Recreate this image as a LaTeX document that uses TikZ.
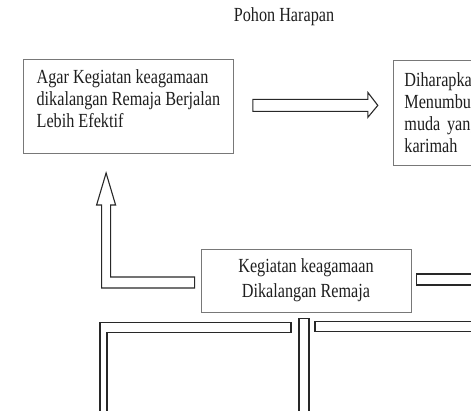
\documentclass[tikz,border=0pt]{standalone}
\usepackage{fontspec}
\setmainfont[FakeStretch=0.81]{Liberation Serif}
\usetikzlibrary{calc}

\tikzset{
  kotak/.style={draw={rgb, 255:red, 120; green, 120; blue, 120 }, line width=0.8pt, inner sep=0pt},
  panah/.style={draw={rgb, 255:red, 40; green, 40; blue, 40 }, line width=1.1pt, fill=white, line join=miter}
}

\begin{document}
\begin{tikzpicture}[x=1pt,y=-1pt,every node/.style={font=\fontsize{20}{22}\selectfont, text={rgb, 255:red, 30; green, 30; blue, 30 }}]
\useasboundingbox (0,0) rectangle (471,411);
\clip (0,0) rectangle (471,411);

% Text Node
\node (judul) [anchor=base] at (284,22) {Pohon Harapan};

%Shape: Rectangle [efektif]
\node (efektif) [kotak, anchor=north west, minimum width=210pt, minimum height=94pt, align=left] at (23,59) {Agar Kegiatan keagamaan\\dikalangan Remaja Berjalan\\Lebih Efektif\rule[-15pt]{0pt}{15pt}};
%Shape: Rectangle [akhlak]
\node (akhlak) [kotak, anchor=north west, minimum width=150pt, minimum height=105pt, text width=128pt, align=left] at (393,60) {Diharapka\\Menumbuh\\muda yang\\karimah};
%Shape: Rectangle [remaja]
\node (remaja) [kotak, minimum width=210pt, minimum height=63pt, align=center] at (306,280.5) {Kegiatan keagamaan\\[3pt]Dikalangan Remaja};

%Right Arrow
\draw [panah] ($(efektif.east)+(19,-7)$) -- ++(115,0) -- ++(0,-7) -- ++(10,13) -- ++(-10,12) -- ++(0,-6) -- ++(-115,0) -- cycle;
%Up Arrow (elbow)
\draw [panah] ($(remaja.west)+(-6,-3.5)$) -- ++(-84,0) -- ++(0,-72) -- ++(5,0) -- ++(-9.5,-32) -- ++(-9.5,32) -- ++(5,0) -- ++(0,83) -- ++(93,0) -- cycle;
%Band to the right
\draw [panah] ($(remaja.east)+(5,-6.5)$) rectangle ++(100,11);

%Lower branches
\draw [panah, fill=none] ($(remaja.south)+(-206,110)$) -- ++(0,-100) -- ++(191,0) -- ++(0,10) -- ++(-184,0) -- ++(0,90);
\draw [panah] ($(remaja.south)+(-7,6)$) rectangle ++(10,110);
\draw [panah] ($(remaja.south)+(9,9)$) rectangle ++(200,10);

\end{tikzpicture}
\end{document}
